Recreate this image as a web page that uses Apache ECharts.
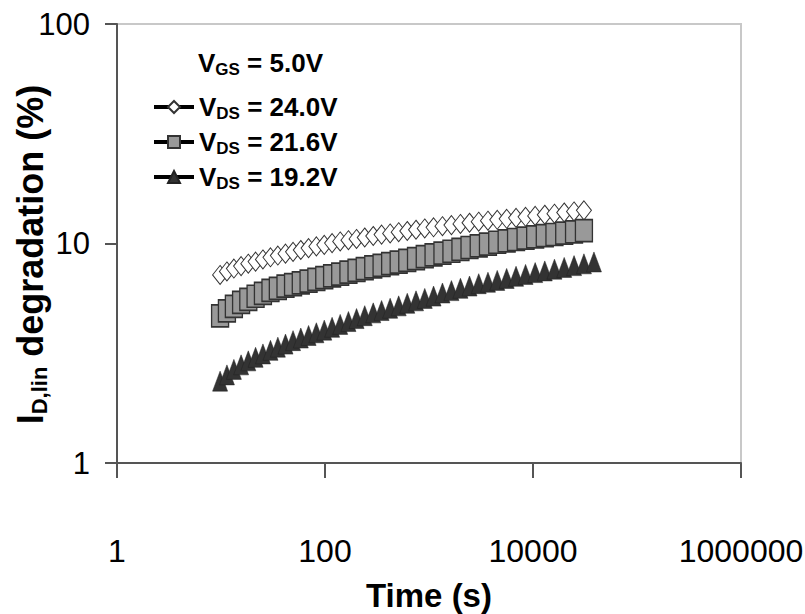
<!DOCTYPE html>
<html>
<head>
<meta charset="utf-8">
<script src="https://cdn.jsdelivr.net/npm/echarts@6/dist/echarts.min.js"></script>
<style>
  html, body { margin: 0; padding: 0; background: #fff; }
  #chart { width: 805px; height: 614px; }
</style>
</head>
<body>
<div id="chart"></div>
<script>
// Stress time (s) for each measurement
const timeS = [9.8, 11.4, 13.3, 15.6, 18.3, 21.5, 25.3, 29.9, 35.2, 41.7,
  49.3, 58.5, 69.5, 82.6, 98.4, 117, 140, 168, 201, 241,
  291, 350, 423, 511, 618, 750, 910, 1106, 1347, 1643,
  2006, 2452, 3006, 3688, 4530, 5580, 6870, 8480, 10490, 12980,
  16080, 19960, 24810, 30880, 38550];

// I_D,lin degradation (%) at V_GS = 5.0 V
const degVds240 = [7.19, 7.46, 7.69, 7.89, 8.09, 8.27, 8.46, 8.65, 8.81, 8.99,
  9.16, 9.34, 9.53, 9.70, 9.86, 10.04, 10.22, 10.35, 10.49, 10.65,
  10.82, 10.98, 11.11, 11.26, 11.40, 11.55, 11.71, 11.85, 11.99, 12.13,
  12.28, 12.43, 12.57, 12.70, 12.82, 12.96, 13.09, 13.23, 13.36, 13.52,
  13.67, 13.84, 14.00, 14.16];
const degVds216 = [4.68, 4.93, 5.17, 5.39, 5.57, 5.75, 5.93, 6.11, 6.25, 6.40,
  6.50, 6.62, 6.74, 6.87, 6.99, 7.12, 7.26, 7.40, 7.54, 7.68,
  7.82, 7.95, 8.09, 8.23, 8.38, 8.54, 8.71, 8.87, 9.04, 9.22,
  9.40, 9.59, 9.76, 9.94, 10.13, 10.29, 10.43, 10.57, 10.71, 10.85,
  10.99, 11.14, 11.29, 11.45];
const degVds192 = [2.36, 2.52, 2.67, 2.80, 2.92, 3.03, 3.14, 3.26, 3.37, 3.48,
  3.61, 3.71, 3.81, 3.92, 4.03, 4.15, 4.28, 4.41, 4.55, 4.69,
  4.83, 4.95, 5.07, 5.20, 5.34, 5.48, 5.62, 5.76, 5.95, 6.10,
  6.25, 6.40, 6.56, 6.66, 6.79, 6.93, 7.09, 7.23, 7.37, 7.50,
  7.64, 7.78, 7.93, 8.08, 8.24];

const seriesNames = ['24.0V', '21.6V', '19.2V'];
const xTickLabels = ['1', '100', '10000', '1000000'];
const yTickLabels = ['1', '10', '100'];

function toPoints(values) {
  return values.map((v, i) => [timeS[i], v]);
}

const font = "'Liberation Sans', Arial, sans-serif";
const axisColor = '#555';

const chart = echarts.init(document.getElementById('chart'), null, { renderer: 'svg' });

const legendRich = {
  v: { fontFamily: font, fontSize: 26, fontWeight: 'bold', color: '#000', lineHeight: 30 },
  s: { fontFamily: font, fontSize: 17, fontWeight: 'bold', color: '#000', lineHeight: 18, verticalAlign: 'bottom' },
  t: { fontFamily: font, fontSize: 26, fontWeight: 'bold', color: '#000', lineHeight: 30 }
};

chart.setOption({
  animation: false,
  backgroundColor: '#fff',
  title: {
    text: '{v|V}{s|GS}{t| = 5.0V}',
    left: 198,
    top: 48,
    padding: 0,
    textStyle: { rich: legendRich }
  },
  legend: {
    orient: 'vertical',
    left: 152,
    top: 94,
    padding: 0,
    itemGap: 7,
    itemWidth: 40,
    itemHeight: 15,
    data: seriesNames,
    selectedMode: false,
    lineStyle: { color: '#000', width: 4, opacity: 1 },
    formatter: name => '{v|V}{s|DS}{t| = ' + name + '}',
    textStyle: { rich: legendRich, padding: [0, 0, 0, 0] }
  },
  grid: {
    left: 117, right: 64, top: 24, bottom: 151,
    outerBoundsMode: 'none',
    containLabel: false,
    show: true, borderColor: '#c8c8c8', borderWidth: 2
  },
  xAxis: {
    type: 'log',
    logBase: 10,
    min: 1,
    max: 1000000,
    interval: 2,
    name: 'Time (s)',
    nameLocation: 'middle',
    nameGap: 116,
    nameMoveOverlap: false,
    nameTextStyle: { fontFamily: font, fontSize: 33, fontWeight: 'bold', color: '#000' },
    axisLine: { show: true, lineStyle: { color: axisColor, width: 2 } },
    axisTick: { show: true, length: 15, lineStyle: { color: axisColor, width: 2 } },
    minorTick: { show: false },
    splitLine: { show: false },
    axisLabel: {
      margin: 72,
      fontFamily: font,
      fontSize: 32,
      color: '#000',
      formatter: v => {
        const s = String(Math.round(v));
        return xTickLabels.includes(s) ? s : '';
      }
    }
  },
  yAxis: {
    type: 'log',
    logBase: 10,
    min: 1,
    max: 100,
    name: '{i|I}{s|D,lin}{t| degradation (%)}',
    nameLocation: 'middle',
    nameRotate: 90,
    nameGap: 87,
    nameMoveOverlap: false,
    nameTextStyle: {
      verticalAlign: 'middle',
      padding: [0, 22, 0, 0],
      rich: {
        i: { fontFamily: font, fontSize: 36, fontWeight: 'bold', color: '#000', lineHeight: 40 },
        s: { fontFamily: font, fontSize: 22, fontWeight: 'bold', color: '#000', lineHeight: 23, verticalAlign: 'bottom' },
        t: { fontFamily: font, fontSize: 36, fontWeight: 'bold', color: '#000', lineHeight: 40 }
      }
    },
    axisLine: { show: true, lineStyle: { color: axisColor, width: 2 } },
    axisTick: { show: true, length: 12, lineStyle: { color: axisColor, width: 2 } },
    minorTick: { show: false },
    splitLine: { show: false },
    axisLabel: {
      margin: 27,
      fontFamily: font,
      fontSize: 31,
      color: '#000',
      formatter: v => {
        const s = String(Math.round(v));
        return yTickLabels.includes(s) ? s : '';
      }
    }
  },
  series: [
    {
      name: seriesNames[0],
      type: 'line',
      data: toPoints(degVds240),
      symbol: 'diamond',
      symbolSize: [15, 19],
      showAllSymbol: true,
      itemStyle: { color: '#fff', borderColor: '#333', borderWidth: 1 },
      lineStyle: { opacity: 0 },
      z: 3
    },
    {
      name: seriesNames[1],
      type: 'line',
      data: toPoints(degVds216),
      symbol: 'rect',
      symbolSize: [17, 22],
      showAllSymbol: true,
      itemStyle: { color: '#999', borderColor: '#333', borderWidth: 1.5 },
      lineStyle: { opacity: 0 },
      z: 4
    },
    {
      name: seriesNames[2],
      type: 'line',
      data: toPoints(degVds192),
      symbol: 'triangle',
      symbolSize: [15, 20],
      showAllSymbol: true,
      itemStyle: { color: '#333', borderColor: '#222', borderWidth: 0.5 },
      lineStyle: { opacity: 0 },
      z: 5
    }
  ]
});
</script>
</body>
</html>
